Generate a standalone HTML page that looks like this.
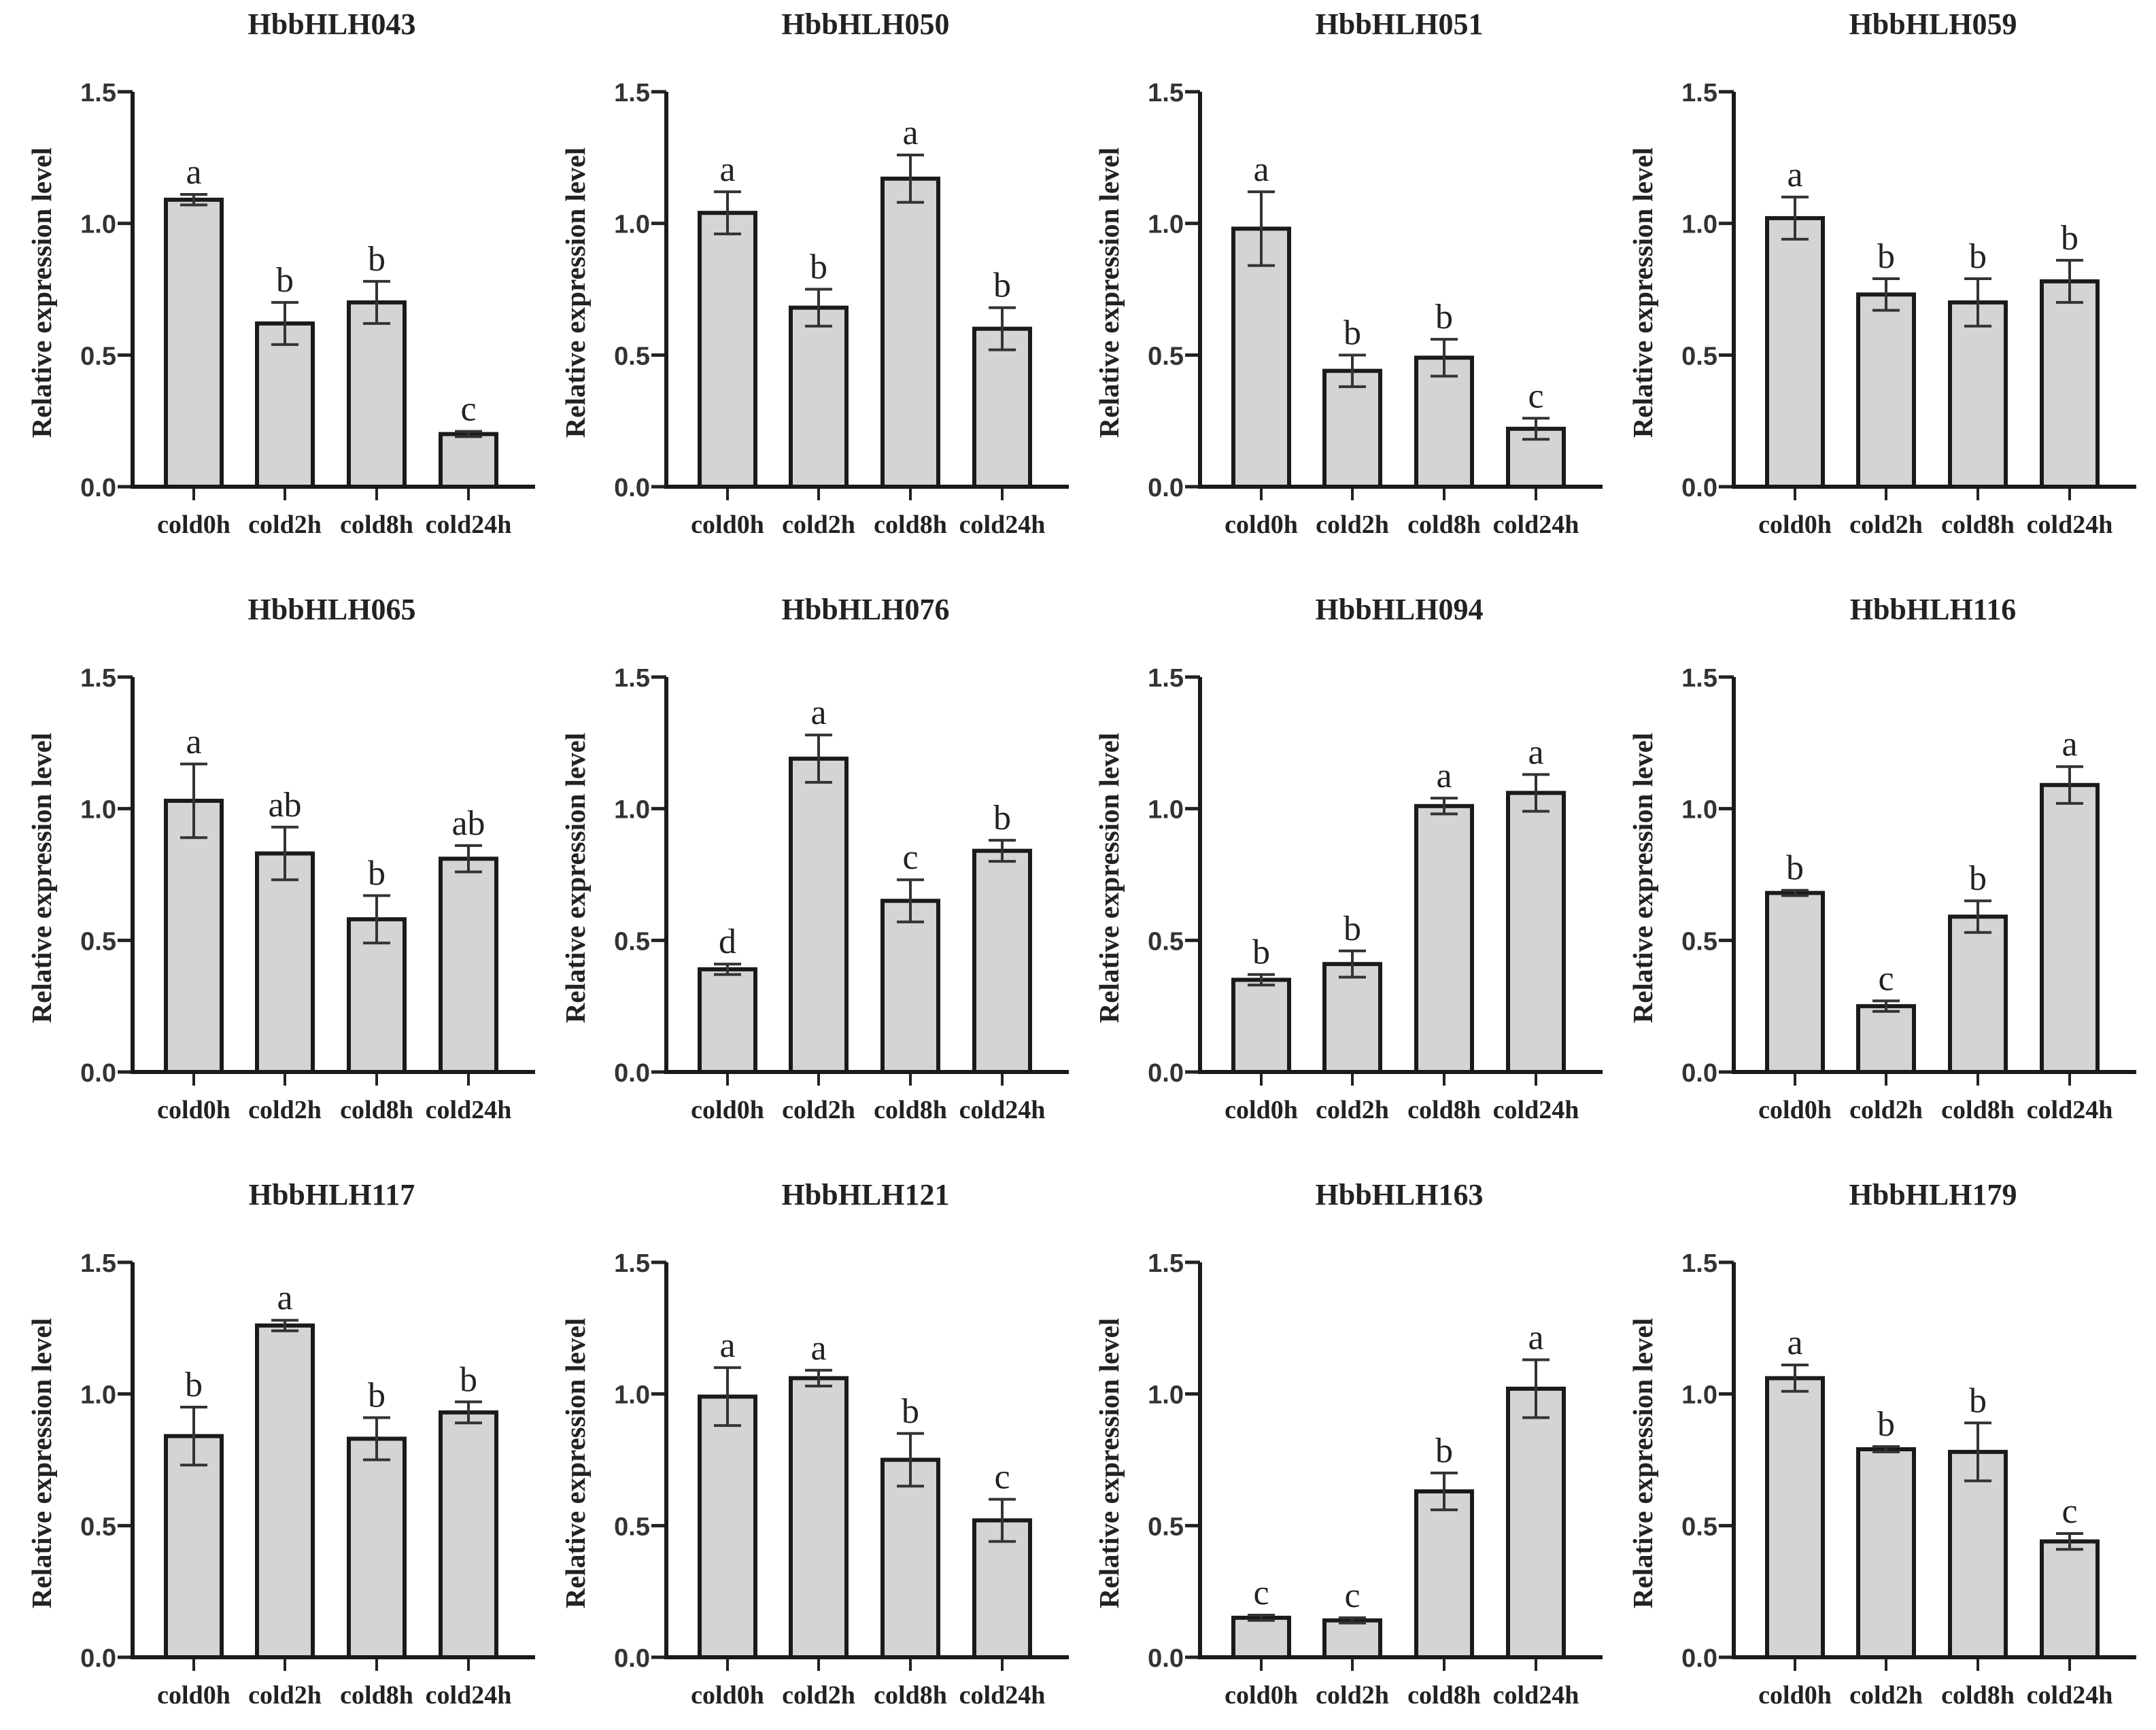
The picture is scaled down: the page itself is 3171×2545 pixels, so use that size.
<!DOCTYPE html>
<html><head><meta charset="utf-8"><style>
html,body{margin:0;padding:0;background:#fff}
svg{display:block}
</style></head><body>
<svg id="chart" width="3171" height="2545" viewBox="0 0 3171 2545" xmlns="http://www.w3.org/2000/svg"></svg>
<script>
const genes = ["HbbHLH043","HbbHLH050","HbbHLH051","HbbHLH059","HbbHLH065","HbbHLH076","HbbHLH094","HbbHLH116","HbbHLH117","HbbHLH121","HbbHLH163","HbbHLH179"];
const categories = ["cold0h","cold2h","cold8h","cold24h"];
const yTicks = [0.0,0.5,1.0,1.5];
const means = [
 [1.09,0.62,0.70,0.20],[1.04,0.68,1.17,0.60],[0.98,0.44,0.49,0.22],[1.02,0.73,0.70,0.78],
 [1.03,0.83,0.58,0.81],[0.39,1.19,0.65,0.84],[0.35,0.41,1.01,1.06],[0.68,0.25,0.59,1.09],
 [0.84,1.26,0.83,0.93],[0.99,1.06,0.75,0.52],[0.15,0.14,0.63,1.02],[1.06,0.79,0.78,0.44]];
const errors = [
 [0.02,0.08,0.08,0.01],[0.08,0.07,0.09,0.08],[0.14,0.06,0.07,0.04],[0.08,0.06,0.09,0.08],
 [0.14,0.10,0.09,0.05],[0.02,0.09,0.08,0.04],[0.02,0.05,0.03,0.07],[0.01,0.02,0.06,0.07],
 [0.11,0.02,0.08,0.04],[0.11,0.03,0.10,0.08],[0.01,0.01,0.07,0.11],[0.05,0.01,0.11,0.03]];
const letters = [
 ["a","b","b","c"],["a","b","a","b"],["a","b","b","c"],["a","b","b","b"],
 ["a","ab","b","ab"],["d","a","c","b"],["b","b","a","a"],["b","c","b","a"],
 ["b","a","b","b"],["a","a","b","c"],["c","c","b","a"],["a","b","b","c"]];

const svg = document.getElementById('chart');
const NS = "http://www.w3.org/2000/svg";
function mk(tag, attrs, parent){const e=document.createElementNS(NS,tag);for(const k in attrs)e.setAttribute(k,attrs[k]);(parent||svg).appendChild(e);return e;}

const colX0 = 195, colDX = 785, rowY0 = 135, rowDY = 861, plotH = 581, xLen = 592;
const barOff = [90, 224, 359, 494], barW = 82;

genes.forEach((g, gi) => {
  const col = gi % 4, row = Math.floor(gi / 4);
  const ax = colX0 + col*colDX, top = rowY0 + row*rowDY, base = top + plotH;
  const yS = v => base - v/1.5*plotH;
  const xS = i => ax + barOff[i];
  const grp = mk('g', {});
  
  

  const t = mk('text', {x: ax+293, y: top-85, 'text-anchor':'middle', 'font-family':'Liberation Serif, serif', 'font-weight':'bold', 'font-size':44, fill:'#222'}, grp);
  t.textContent = g;
  
  

  const yt = mk('text', {transform:`translate(${ax-120},${top+plotH/2+5}) rotate(-90)`, 'text-anchor':'middle', 'font-family':'Liberation Serif, serif', 'font-weight':'bold', 'font-size':41, fill:'#222'}, grp);
  yt.textContent = 'Relative expression level';
  
  

  yTicks.forEach(v => {
    mk('line', {x1: ax-22, x2: ax, y1: yS(v), y2: yS(v), stroke:'#222', 'stroke-width':5}, grp);
    const tl = mk('text', {x: ax-24, y: yS(v)+14, 'text-anchor':'end', 'font-family':'Liberation Sans, sans-serif', 'font-weight':'bold', 'font-size':38, fill:'#333'}, grp);
    tl.textContent = v.toFixed(1);
    
    
  });

  categories.forEach((c, i) => {
    const v = means[gi][i], e = errors[gi][i], cx = xS(i);
    const b = mk('rect', {x: cx-barW/2, y: yS(v), width: barW, height: base-yS(v), fill:'#d4d4d4', stroke:'#1a1a1a', 'stroke-width':6}, grp);
    
    
    const eb = mk('path', {d:`M${cx},${yS(v-e)}V${yS(v+e)}M${cx-20},${yS(v+e)}H${cx+20}M${cx-20},${yS(v-e)}H${cx+20}`, stroke:'#333', 'stroke-width':4, fill:'none'}, grp);
    
    
    const lt = mk('text', {x: cx, y: yS(v+e)-16, 'text-anchor':'middle', 'font-family':'Liberation Serif, serif', 'font-size':52, fill:'#222'}, grp);
    lt.textContent = letters[gi][i];
    
    
    mk('line', {x1: cx, x2: cx, y1: base, y2: base+20, stroke:'#222', 'stroke-width':4}, grp);
    const cl = mk('text', {x: cx, y: base+68, 'text-anchor':'middle', 'font-family':'Liberation Serif, serif', 'font-weight':'bold', 'font-size':38, fill:'#222'}, grp);
    cl.textContent = c;
    
    
  });

  mk('path', {d:`M${ax},${top}V${base}H${ax+xLen}`, stroke:'#1a1a1a', 'stroke-width':6, fill:'none'}, grp);
});
</script>
</body></html>
